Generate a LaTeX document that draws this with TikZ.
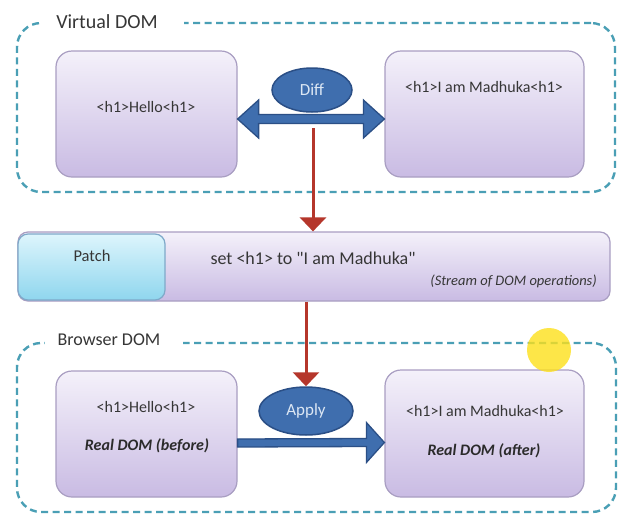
\documentclass[tikz,border=0pt]{standalone}
\usepackage{fontspec}
\setmainfont{Carlito}
\usetikzlibrary{calc,shapes.geometric,arrows.meta}
\definecolor{dashc}{HTML}{4A9FB5}
\definecolor{boxtop}{HTML}{F4F1FA}
\definecolor{boxbot}{HTML}{C9BBE3}
\definecolor{boxline}{HTML}{A99EC2}
\definecolor{cyantop}{HTML}{DDF5FC}
\definecolor{cyanbot}{HTML}{8FD6EE}
\definecolor{cyanline}{HTML}{7FA9C9}
\definecolor{ellfill}{HTML}{3F6EAE}
\definecolor{ellline}{HTML}{2B4F86}
\definecolor{elltext}{HTML}{DCE7F4}
\definecolor{redc}{HTML}{B5362B}
\definecolor{txt}{HTML}{363636}
\begin{document}
\begin{tikzpicture}[x=1pt,y=-1pt,
  group/.style={draw=dashc, line width=2.4pt, dash pattern=on 7pt off 4.5pt, rounded corners=24pt, inner sep=0pt},
  grouplabel/.style={fill=white, inner sep=0pt, minimum height=14pt, text=txt, font=\fontsize{20}{22}\selectfont},
  dombox/.style={draw=boxline, line width=1.2pt, top color=boxtop, bottom color=boxbot, rounded corners=16pt, inner sep=0pt},
  boxtext/.style={text=txt, inner sep=0pt, font=\fontsize{16}{18}\selectfont},
  realtext/.style={text=txt!80!black, inner sep=0pt, font=\fontsize{16}{18}\selectfont\bfseries\itshape},
  oval/.style={ellipse, draw=ellline, line width=1.5pt, fill=ellfill, text=elltext, inner sep=0pt, font=\fontsize{17}{19}\selectfont},
  bigarrow/.style={draw=ellline, line width=1.3pt, fill=ellfill, line join=miter},
  redarrow/.style={draw=redc, line width=3pt, -{Triangle[length=14pt,width=26pt]}}
]
\useasboundingbox (0,0) rectangle (625,523);
\fill[white] (0,0) rectangle (625,523);

% Virtual DOM group
\node[group, minimum width=598pt, minimum height=169pt] (vgroup) at (316,107.5) {};
\node[grouplabel, minimum width=144pt] (vlabel) at (111.5,22) {\hspace*{-9pt}Virtual DOM};

\node[dombox, minimum width=181pt, minimum height=126pt] (vl) at (146.5,114) {};
\node[dombox, minimum width=199pt, minimum height=126pt] (vr) at (484.5,114) {};
\node[boxtext] (vltext) at (146,107) {<h1>Hello<h1>};
\node[boxtext] (vrtext) at (484,87) {<h1>I am Madhuka<h1>};

% double arrow
\draw[bigarrow] ($(vl.east)+(0,5)$) -- ++(21,-19) -- ++(0,14.5) -- ($(vr.west)+(-21,0.5)$) -- ++(0,-14.5) -- ($(vr.west)+(0,5)$) -- ++(-21,19) -- ++(0,-14.5) -- ($(vl.east)+(21,9.5)$) -- ++(0,14.5) -- cycle;
\node[oval, minimum width=80pt, minimum height=44pt] (diff) at (312,90) {Diff};

% Patch bar
\node[dombox, rounded corners=10pt, minimum width=592pt, minimum height=69pt] (patch) at (314,266.5) {};
\node[draw=cyanline, line width=1.2pt, top color=cyantop, bottom color=cyanbot, rounded corners=10pt, minimum width=147pt, minimum height=66pt, inner sep=0pt] (patchbox) at (91.5,267) {};
\node[boxtext, font=\fontsize{16.5}{18}\selectfont] (patchlbl) at (92,256) {Patch};
\node[boxtext, font=\fontsize{18}{20}\selectfont] (settext) at (313,258) {set <h1> to \textquotedbl I am Madhuka\textquotedbl};
\node[boxtext, font=\fontsize{14.5}{16}\selectfont\itshape, anchor=east] (stream) at (597,281) {(Stream of DOM operations)};

% red arrows
\coordinate (rs) at (313,128);
\draw[redarrow] (rs) -- (patch.north -| rs);

% Browser DOM group
\node[group, minimum width=599pt, minimum height=169pt] (bgroup) at (316.5,427.5) {};
\node[grouplabel, minimum width=138pt, font=\fontsize{18}{20}\selectfont] (blabel) at (114,340) {\hspace*{-10pt}Browser DOM};

\node[dombox, minimum width=181pt, minimum height=126pt] (bl) at (146.5,434) {};
\node[dombox, minimum width=199pt, minimum height=127pt] (br) at (484.5,433.5) {};
\node[boxtext] (bltext) at (146,407) {<h1>Hello<h1>};
\node[realtext] (blreal) at (147,446) {Real DOM (before)};
\node[boxtext] (brtext) at (485,411) {<h1>I am Madhuka<h1>};
\node[realtext] (brreal) at (484,451) {Real DOM (after)};

% apply arrow
\draw[bigarrow] ($(bl.east)+(0,5)$) -- ($(br.west)+(-18,5)$) -- ++(0,-16) -- ($(br.west)+(0,9)$) -- ++(-18,20) -- ++(0,-16) -- ($(bl.east)+(0,13)$) -- cycle;
\node[oval, minimum width=94pt, minimum height=48pt] (apply) at (306,411) {Apply};

\draw[redarrow] (patch.south -| apply.north) -- (apply.north);

% cursor highlight
\node[circle, fill=yellow!80!orange!90!white, opacity=0.8, minimum size=44pt, inner sep=0pt] (cursor) at (549,350) {};
\end{tikzpicture}
\end{document}
